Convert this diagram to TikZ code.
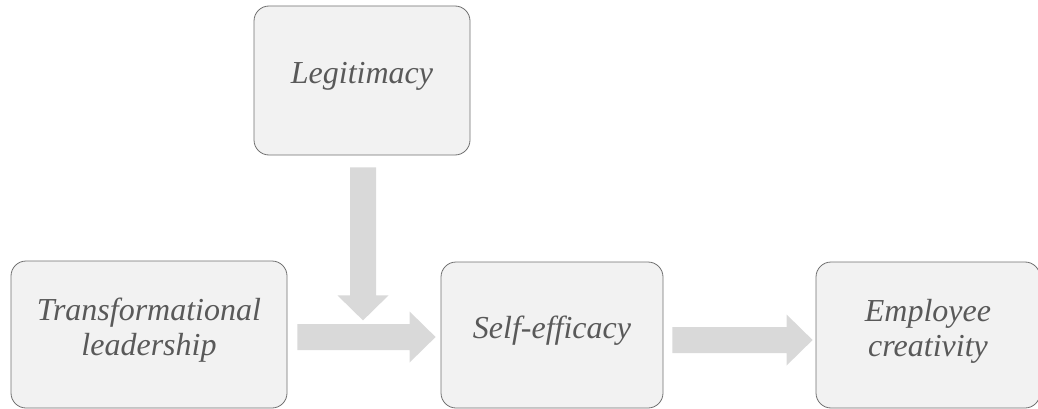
\documentclass[tikz,border=0pt]{standalone}
\usepackage{fontspec}
\setmainfont{Liberation Serif}
\usetikzlibrary{calc}
\definecolor{boxfill}{RGB}{242,242,242}
\definecolor{boxline}{RGB}{112,112,112}
\definecolor{textgray}{RGB}{89,89,89}
\definecolor{arrowgray}{RGB}{217,217,217}
\tikzset{
    varbox/.style={
        rectangle, rounded corners=15pt,
        fill=boxfill, draw=boxline, line width=0.8pt,
        inner sep=0pt
    },
    boxtext/.style={
        font=\fontsize{32}{35}\selectfont\itshape,
        text=textgray, align=center, yshift=4pt
    }
}
% fat arrow to the right: start, tip
\newcommand{\rightblock}[2]{
    \fill[arrowgray] let \p1=(#1), \p2=(#2) in
      (\x1,\y1+13pt) -- (\x2-26pt,\y1+13pt) -- (\x2-26pt,\y1+25.5pt)
      -- (\x2,\y1) -- (\x2-26pt,\y1-25.5pt) -- (\x2-26pt,\y1-13pt)
      -- (\x1,\y1-13pt) -- cycle;
}
% fat arrow downwards: start, tip
\newcommand{\downblock}[2]{
    \fill[arrowgray] let \p1=(#1), \p2=(#2) in
      (\x1-13pt,\y1) -- (\x1-13pt,\y2+25pt) -- (\x1-25.5pt,\y2+25pt)
      -- (\x1,\y2) -- (\x1+25.5pt,\y2+25pt) -- (\x1+13pt,\y2+25pt)
      -- (\x1+13pt,\y1) -- cycle;
}

\begin{document}
\begin{tikzpicture}[x=1pt,y=-1pt]
\useasboundingbox (0,0) rectangle (1038,409);
\node[varbox, minimum width=216pt, minimum height=149pt,
      label={[boxtext]center:Legitimacy}] (legit) at (362,80.5) {};
\node[varbox, minimum width=276pt, minimum height=147pt,
      label={[boxtext]center:{Transformational\\leadership}}] (trans) at (149,334.5) {};
\node[varbox, minimum width=222pt, minimum height=146pt,
      label={[boxtext]center:Self-efficacy}] (selfeff) at (552,335) {};
\node[varbox, minimum width=224pt, minimum height=146pt,
      label={[boxtext]center:{Employee\\creativity}}] (creat) at (928,335) {};
% arrows between the boxes
\coordinate (modtip) at ($(legit.south)+(1,165)$);
\downblock{$(legit.south)+(1,12)$}{modtip}
\rightblock{$(trans.east)+(10,2.5)$}{$(selfeff.west)+(-5,2.5)$}
\rightblock{$(selfeff.east)+(9,5)$}{$(creat.west)+(-3,5)$}
\end{tikzpicture}
\end{document}
